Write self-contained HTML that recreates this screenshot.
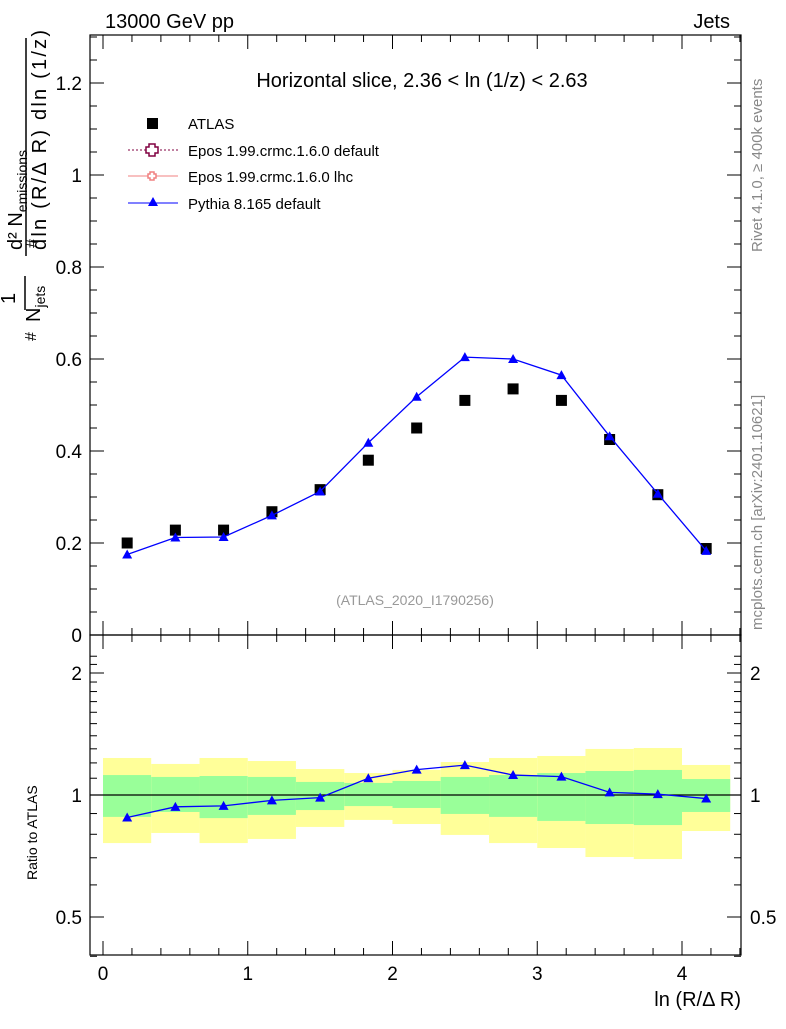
<!DOCTYPE html>
<html><head><meta charset="utf-8"><style>
body{margin:0;background:#fff;}
svg text{font-family:"Liberation Sans",sans-serif;}
</style></head><body>
<svg id="chart" width="786" height="1024" xmlns="http://www.w3.org/2000/svg">
<text x="105" y="28" font-size="20">13000 GeV pp</text>
<text x="730" y="28" font-size="20" text-anchor="end">Jets</text>
<text transform="translate(762,252) rotate(-90)" font-size="15" fill="#888">Rivet 4.1.0, ≥ 400k events</text>
<text transform="translate(762,630) rotate(-90)" font-size="15" fill="#888">mcplots.cern.ch [arXiv:2401.10621]</text>
<g id="main"></g>
<g id="ratio"></g>
<g>
<text transform="translate(36,341) rotate(-90)" font-size="16">#</text>
<text transform="translate(15,304) rotate(-90)" font-size="20">1</text>
<line x1="25" y1="276" x2="25" y2="310" stroke="#000" stroke-width="1.5"/>
<text transform="translate(40,322) rotate(-90)" font-size="20">N<tspan font-size="14" dy="5">jets</tspan></text>
<text transform="translate(37,248) rotate(-90)" font-size="16">#</text>
<text transform="translate(22,250) rotate(-90)" font-size="20">d² N<tspan font-size="14" dy="5">emissions</tspan></text>
<line x1="26" y1="38" x2="26" y2="256" stroke="#000" stroke-width="1.5"/>
<text transform="translate(46,250) rotate(-90)" font-size="20" textLength="220">dln (R/Δ R) dln (1/z)</text>
</g>
<text transform="translate(37,880) rotate(-90)" font-size="14">Ratio to ATLAS</text>
<text x="741" y="1006" font-size="20" text-anchor="end">ln (R/Δ R)</text>
</svg>
<script>
const xTicks=[0,1,2,3,4];
const yTicks=[0,0.2,0.4,0.6,0.8,1,1.2];
const yTickLabels=["0","0.2","0.4","0.6","0.8","1","1.2"];
const rTicks=[0.5,1,2];
const rTickLabels=["0.5","1","2"];
const binEdges=[0,0.333,0.667,1,1.333,1.667,2,2.333,2.667,3,3.333,3.667,4,4.333];
const xCenters=[0.167,0.5,0.833,1.167,1.5,1.833,2.167,2.5,2.833,3.167,3.5,3.833,4.167];
const atlas=[0.200,0.228,0.228,0.268,0.316,0.380,0.450,0.510,0.535,0.510,0.425,0.305,0.188];
const pythia=[0.175,0.212,0.213,0.260,0.312,0.418,0.518,0.604,0.600,0.565,0.432,0.307,0.183];
const pythiaRatio=[0.88,0.935,0.94,0.97,0.985,1.10,1.155,1.185,1.12,1.11,1.015,1.005,0.98];
const yellowHi=[1.234,1.193,1.234,1.213,1.159,1.133,1.153,1.206,1.234,1.248,1.299,1.306,1.186];
const yellowLo=[0.761,0.806,0.761,0.779,0.834,0.868,0.848,0.797,0.761,0.740,0.703,0.695,0.815];
const greenHi=[1.12,1.108,1.114,1.108,1.077,1.071,1.083,1.108,1.12,1.133,1.146,1.153,1.095];
const greenLo=[0.883,0.908,0.877,0.893,0.918,0.939,0.929,0.898,0.883,0.863,0.848,0.843,0.908];

const NS="http://www.w3.org/2000/svg";
const L=90,R=741,T1=35,B1=635,T2=635,B2=955;
const X=v=>103+v*144.75;
const Y=v=>635-v*460;
const RY=v=>795-122*Math.log2(v);
function mk(parent,tag,attrs){const e=document.createElementNS(NS,tag);for(const k in attrs)e.setAttribute(k,attrs[k]);parent.appendChild(e);return e;}
const main=document.getElementById('main'),ratio=document.getElementById('ratio');

for(let i=0;i<xCenters.length;i++){
 const x1=X(binEdges[i]),x2=X(binEdges[i+1]);
 let y=mk(ratio,'rect',{x:x1,y:RY(yellowHi[i]),width:x2-x1,height:RY(yellowLo[i])-RY(yellowHi[i]),fill:'#ffff99'});
 
 
 let g=mk(ratio,'rect',{x:x1,y:RY(greenHi[i]),width:x2-x1,height:RY(greenLo[i])-RY(greenHi[i]),fill:'#99ff99'});
 
 
}
mk(ratio,'line',{x1:L,x2:R,y1:RY(1),y2:RY(1),stroke:'#000','stroke-width':1.2});

mk(main,'rect',{x:L,y:T1,width:R-L,height:B1-T1,fill:'none',stroke:'#000','stroke-width':1.2});
mk(ratio,'rect',{x:L,y:T2,width:R-L,height:B2-T2,fill:'none',stroke:'#000','stroke-width':1.2});

for(let v=-0.0;v<=4.41;v+=0.2){
 const major=Math.abs(v-Math.round(v))<1e-6;const len=major?14:7;
 for(const [t,b] of [[T1,B1],[T2,B2]]){
  mk(main,'line',{x1:X(v),x2:X(v),y1:b,y2:b-len,stroke:'#000'});
  mk(main,'line',{x1:X(v),x2:X(v),y1:t,y2:t+len,stroke:'#000'});
 }
}
xTicks.forEach(v=>{const t=mk(ratio,'text',{x:X(v),y:980,'font-size':19,'text-anchor':'middle'});t.textContent=v;
 
 });
for(let v=0;v<=1.301;v+=0.05){
 const major=Math.abs(v/0.2-Math.round(v/0.2))<1e-6;const len=major?14:7;
 mk(main,'line',{x1:L,x2:L+len,y1:Y(v),y2:Y(v),stroke:'#000'});
 mk(main,'line',{x1:R,x2:R-len,y1:Y(v),y2:Y(v),stroke:'#000'});
}
yTicks.forEach((v,i)=>{const t=mk(main,'text',{x:82,y:Y(v)+7,'font-size':19,'text-anchor':'end'});t.textContent=yTickLabels[i];
 
 });
[0.4,0.5,0.6,0.7,0.8,0.9,1,2].forEach(v=>{const len=[0.5,1,2].includes(v)?14:7;
 mk(ratio,'line',{x1:L,x2:L+len,y1:RY(v),y2:RY(v),stroke:'#000'});
 mk(ratio,'line',{x1:R,x2:R-len,y1:RY(v),y2:RY(v),stroke:'#000'});});
for(let v=1.1;v<=2.3;v+=0.1){mk(ratio,'line',{x1:L,x2:L+7,y1:RY(v),y2:RY(v),stroke:'#000'});mk(ratio,'line',{x1:R,x2:R-7,y1:RY(v),y2:RY(v),stroke:'#000'});}
rTicks.forEach((v,i)=>{
 const t=mk(ratio,'text',{x:82,y:RY(v)+7,'font-size':19,'text-anchor':'end'});t.textContent=rTickLabels[i];
 
 
 const t2=mk(ratio,'text',{x:750,y:RY(v)+7,'font-size':19});t2.textContent=rTickLabels[i];
 
 });

let tt=mk(main,'text',{x:422,y:87,'font-size':20,'text-anchor':'middle'});tt.textContent='Horizontal slice, 2.36 < ln (1/z) < 2.63';


let ref=mk(main,'text',{x:415,y:605,'font-size':14,'text-anchor':'middle',fill:'#999'});ref.textContent='(ATLAS_2020_I1790256)';



const leg=[['ATLAS',123],['Epos 1.99.crmc.1.6.0 default',150],['Epos 1.99.crmc.1.6.0 lhc',176],['Pythia 8.165 default',203]];
leg.forEach(([s,y],i)=>{const t=mk(main,'text',{x:188,y:y+6,'font-size':15});t.textContent=s;
 
 });
mk(main,'rect',{x:147,y:118,width:11,height:11,fill:'#000'});
mk(main,'line',{x1:128,x2:178,y1:150,y2:150,stroke:'#800040','stroke-dasharray':'2,2'});
mk(main,'path',{d:'M149 144h6v3h3v6h-3v3h-6v-3h-3v-6h3z',fill:'#fff',stroke:'#800040','stroke-width':1.5});
mk(main,'line',{x1:128,x2:178,y1:176,y2:176,stroke:'#f08080'});
mk(main,'path',{d:'M150 172h4v2h2v4h-2v2h-4v-2h-2v-4h2z',fill:'#fff',stroke:'#f08080','stroke-width':1.5});
mk(main,'line',{x1:128,x2:178,y1:203,y2:203,stroke:'#0000ff'});
mk(main,'path',{d:'M153 197l5 9h-10z',fill:'#0000ff'});

atlas.forEach((v,i)=>{const r=mk(main,'rect',{x:X(xCenters[i])-5.5,y:Y(v)-5.5,width:11,height:11,fill:'#000'});
 
 });
const pl=mk(main,'polyline',{points:pythia.map((v,i)=>X(xCenters[i])+','+Y(v)).join(' '),fill:'none',stroke:'#0000ff','stroke-width':1.3});


pythia.forEach((v,i)=>{const x=X(xCenters[i]),y=Y(v);const p=mk(main,'path',{d:`M${x} ${y-5}l5 9h-10z`,fill:'#0000ff'});
 
 });
const rl=mk(ratio,'polyline',{points:pythiaRatio.map((v,i)=>X(xCenters[i])+','+RY(v)).join(' '),fill:'none',stroke:'#0000ff','stroke-width':1.3});


pythiaRatio.forEach((v,i)=>{const x=X(xCenters[i]),y=RY(v);const p=mk(ratio,'path',{d:`M${x} ${y-5}l5 9h-10z`,fill:'#0000ff'});
 
 });
</script>
</body></html>
